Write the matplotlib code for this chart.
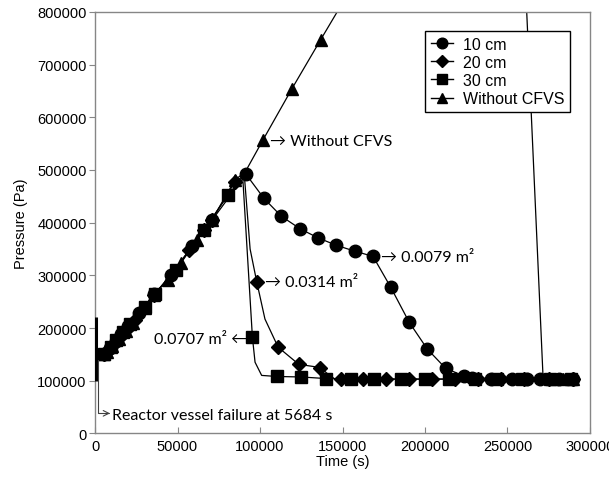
import matplotlib
matplotlib.use("Agg")
import matplotlib.pyplot as plt
from matplotlib.lines import Line2D
import numpy as np

# ---- data (time in s, pressure in Pa) ----
cm10_t = [5684, 9000, 12500, 16000, 20000, 26700, 36000, 46000, 58900, 71000, 91500,
          102400, 113000, 124500, 135300, 146300, 157300, 168500, 179300, 190400,
          201400, 212500, 223500, 228500, 240000, 253000, 262000, 270000, 281000, 290000]
cm10_p = [150000, 162000, 176000, 189000, 203000, 228000, 264000, 301000, 355000, 405000, 492000,
          446000, 412000, 388000, 371000, 357000, 346000, 336000, 277000, 211000,
          160000, 123500, 109000, 105000, 104000, 104000, 104000, 104000, 104000, 104000]

cm20_t = [5684, 8000, 11500, 15000, 19000, 24000, 35700, 47000, 57000, 65800, 70900, 84900,
          98000, 111000, 123500, 136500, 149200, 162200, 176300, 190400, 204000, 218000,
          232000, 246000, 260000, 275000, 290000]
cm20_p = [150000, 157000, 170000, 183000, 197000, 216000, 263000, 304000, 348000, 386500, 405500, 478000,
          288000, 163500, 131000, 125000, 103000, 103000, 103000, 103000, 103000, 103000,
          103000, 103000, 103000, 103000, 103000]
# extra points on the smoothed curve (no marker)
cm20_bend_t = [90500, 94000, 103000, 141000, 145000]
cm20_bend_p = [490000, 350000, 217000, 113000, 104000]

cm30_t = [5684, 9500, 13000, 17000, 21500, 30000, 36500, 48800, 65800, 80900, 95400,
          110000, 125100, 140100, 155200, 169300, 185400, 199800, 214500, 230500, 243600,
          258600, 275700, 288700]
cm30_p = [150000, 164000, 177000, 192000, 207000, 240000, 265000, 310000, 386500, 453000, 182500,
          108000, 107000, 104000, 103000, 103000, 103000, 103000, 103000, 103000, 103000,
          103000, 103000, 103000]
cm30_bend_t = [89500, 97000, 101000]
cm30_bend_p = [488000, 135000, 110000]

nocfvs_t = [5684, 7000, 10500, 14500, 18500, 23000, 30000, 35700, 44000, 52000, 62000, 70900,
            84900, 101800, 119300, 136700, 277000, 283500, 289500]
nocfvs_p = [150000, 154000, 166000, 180000, 194000, 210000, 238000, 263000, 292000, 323000, 368000, 405500,
            481500, 557000, 654000, 747000, 103000, 103000, 103000]
# part of the curve that runs above the plotted range and back down
nocfvs_bend_t = [91000, 160000, 200000, 240000, 259500, 271500, 274000]
nocfvs_bend_p = [496000, 870000, 1000000, 1060000, 950000, 110000, 103000]

# short vertical segment at the start of the record
spike_t = 600
spike_p = [99000, 221000]

series = [
    ("10 cm", cm10_t, cm10_p, [], [], "o", 9),
    ("20 cm", cm20_t, cm20_p, cm20_bend_t, cm20_bend_p, "D", 7),
    ("30 cm", cm30_t, cm30_p, cm30_bend_t, cm30_bend_p, "s", 8.5),
    ("Without CFVS", nocfvs_t, nocfvs_p, nocfvs_bend_t, nocfvs_bend_p, "^", 9),
]

plt.rcParams["font.family"] = ["Liberation Sans", "DejaVu Sans"]
note_font = ["Lato", "DejaVu Sans"]

fig = plt.figure(figsize=(6.09, 4.81), dpi=100)
ax = fig.add_axes([0.156, 0.097, 0.8128, 0.876])

handles = []
for label, t, p, bt, bp, mk, ms in series:
    ct = np.array(list(t) + list(bt))
    cp = np.array(list(p) + list(bp))
    order = np.argsort(ct, kind="stable")
    ax.plot(ct[order], cp[order], color="black", lw=0.9, zorder=2)
    ax.plot(t, p, ls="none", marker=mk, ms=ms, color="black", zorder=3)
    handles.append(Line2D([], [], color="black", lw=1.0, marker=mk, ms=ms * 0.85, label=label))

ax.vlines(spike_t, spike_p[0], spike_p[1], color="black", lw=2.2, zorder=3)

ax.set_xlim(0, 300000)
ax.set_ylim(0, 800000)
ax.set_xticks(np.arange(0, 300001, 50000))
ax.set_yticks(np.arange(0, 800001, 100000))
ax.tick_params(axis="x", direction="in", length=4, color="#868686", labelsize=10.5, pad=4)
ax.tick_params(axis="y", direction="out", length=4, color="#868686", labelsize=10.5, pad=2)
for s in ax.spines.values():
    s.set_color("#868686")
    s.set_linewidth(1.0)

ax.set_xlabel("Time (s)", fontsize=10.5, labelpad=1)
ax.set_ylabel("Pressure (Pa)", fontsize=10.5, labelpad=7)

leg = ax.legend(handles=handles, loc="upper right", bbox_to_anchor=(0.9596, 0.955),
                borderaxespad=0, fancybox=False, framealpha=1, edgecolor="black",
                fontsize=11.5, handlelength=1.4, handletextpad=0.6, labelspacing=0.2,
                borderpad=0.35)
leg.get_frame().set_linewidth(1.0)
leg.set_zorder(5)

# annotations
note_size = 11.5
ax.text(106000, 554600, "\u2192 Without CFVS", family=note_font, fontsize=note_size, va="center", ha="left")
ax.text(173300, 334000, "\u2192 0.0079 m\u00b2", family=note_font, fontsize=note_size, va="center", ha="left")
ax.text(103000, 286500, "\u2192 0.0314 m\u00b2", family=note_font, fontsize=note_size, va="center", ha="left")
ax.text(91900, 180000, "0.0707 m\u00b2 \u2190", family=note_font, fontsize=note_size, va="center", ha="right")
ax.annotate("", xy=(9100, 38000), xytext=(1700, 140000),
            arrowprops=dict(arrowstyle="->", color="#404040", lw=0.8, shrinkA=0, shrinkB=0,
                            connectionstyle="angle,angleA=90,angleB=0,rad=0"))
ax.text(10200, 34000, "Reactor vessel failure at 5684 s", family=note_font, fontsize=note_size,
        va="center", ha="left")

fig.savefig("out.png", dpi=100)
